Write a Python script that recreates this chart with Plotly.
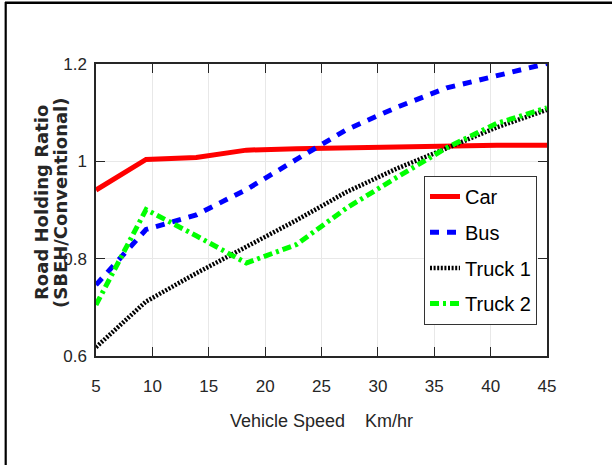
import plotly.graph_objects as go

speed = [5, 9.44, 13.89, 18.33, 22.78, 27.22, 31.67, 36.11, 40.56, 45]
car = [0.941, 1.004, 1.008, 1.023, 1.026, 1.028, 1.030, 1.032, 1.033, 1.033]
bus = [0.746, 0.860, 0.890, 0.942, 1.004, 1.065, 1.111, 1.151, 1.176, 1.201]
truck1 = [0.618, 0.712, 0.770, 0.824, 0.879, 0.937, 0.985, 1.027, 1.070, 1.106]
truck2 = [0.705, 0.901, 0.847, 0.791, 0.829, 0.904, 0.967, 1.028, 1.078, 1.110]

x_ticks = [5, 10, 15, 20, 25, 30, 35, 40, 45]
y_ticks = [0.6, 0.8, 1.0, 1.2]
y_tick_labels = ["0.6", "0.8", "1", "1.2"]

series = [
    ("Car", car, "#FF0000", "solid", 5),
    ("Bus", bus, "#0000FF", "9px,8px", 5),
    ("Truck 1", truck1, "#000000", "2px,1.6px", 4.5),
    ("Truck 2", truck2, "#00FF00", "9px,4px,3px,4px", 5),
]

tickfam = "Liberation Sans, Arial, sans-serif"

fig = go.Figure()
for name, vals, color, dash, w in series:
    fig.add_trace(go.Scatter(
        x=speed, y=vals, name=name, mode="lines", legendgroup=name,
        line=dict(color=color, dash=dash, width=w),
    ))

axis_common = dict(
    showline=True, linecolor="#262626", linewidth=1.5, mirror="ticks",
    ticks="inside", ticklen=9, tickwidth=1.2, tickcolor="#262626",
    showgrid=True, gridcolor="#e8e8e8", gridwidth=1, zeroline=False,
    tickfont=dict(family=tickfam, size=17, color="#262626"),
)

fig.update_xaxes(range=[5, 45], tickvals=x_ticks, ticklabelstandoff=14,
                 **axis_common)
fig.update_yaxes(range=[0.6, 1.2], tickvals=y_ticks, ticktext=y_tick_labels,
                 ticklabelstandoff=4, **axis_common)

fig.add_annotation(text="Vehicle Speed\u00a0\u00a0\u00a0 Km/hr", xref="paper", yref="paper",
                   x=0.5, y=-0.222, xanchor="center", yanchor="middle", showarrow=False,
                   font=dict(family=tickfam, size=18, color="#262626"))
fig.add_annotation(text="<b>Road Holding Ratio</b>", xref="paper", yref="paper",
                   x=(42 - 96) / 451, y=0.524, xanchor="center", yanchor="middle",
                   textangle=-90, showarrow=False,
                   font=dict(family="DejaVu Sans", size=18, color="#262626"))
fig.add_annotation(text="<b>(SBEH/Conventional)</b>", xref="paper", yref="paper",
                   x=(61 - 96) / 451, y=0.524, xanchor="center", yanchor="middle",
                   textangle=-90, showarrow=False,
                   font=dict(family="DejaVu Sans", size=18, color="#262626"))

# outer frame (left and top edges)
fig.add_shape(type="line", xref="paper", yref="paper",
              x0=(5.7 - 96) / 451, x1=(5.7 - 96) / 451, y0=-0.4, y1=(356 - 2) / 292,
              line=dict(color="black", width=2.2))
fig.add_shape(type="line", xref="paper", yref="paper",
              x0=(5 - 96) / 451, x1=1.2, y0=(356 - 2.8) / 292, y1=(356 - 2.8) / 292,
              line=dict(color="black", width=2.5))

fig.update_layout(
    width=612, height=465,
    margin=dict(l=96, r=65, t=64, b=109),
    paper_bgcolor="white", plot_bgcolor="white",
    showlegend=True,
    legend=dict(
        x=(424 - 96) / 451, y=(356 - 176) / 292, xanchor="left", yanchor="top",
        bgcolor="white", bordercolor="#333333", borderwidth=1,
        font=dict(family=tickfam, size=20, color="black"),
        traceorder="grouped", tracegroupgap=6.7,
    ),
)

fig.write_html("out.html")
